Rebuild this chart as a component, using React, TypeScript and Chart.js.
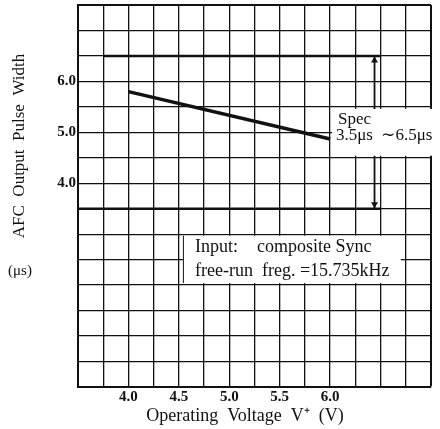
import React, { useEffect, useRef } from "react";
import { Chart, registerables } from "chart.js";

Chart.register(...registerables);

// ---- data ----
const voltage = [4.0, 6.0];
const pulseWidth = [5.8, 4.87];
const specMin = 3.5;
const specMax = 6.5;
const specLineStartX = [3.5, 3.75]; // lower, upper
const specLineEndX = 6.5;
const arrowX = 6.44;
const xLabelsShown = [4.0, 4.5, 5.0, 5.5, 6.0];
const yLabelsShown = [4.0, 5.0, 6.0];
const xRange = [3.5, 7.0];
const yRange = [0, 7.5];
const xStep = 0.25;
const yStep = 0.5;

const FONT = '"Liberation Serif", "Times New Roman", serif';

const overlayPlugin = {
  id: "overlay",
  beforeDatasetsDraw(chart: any) {
    const { ctx } = chart;
    const x = chart.scales.x;
    const y = chart.scales.y;
    ctx.save();
    ctx.fillStyle = "#fff";
    // spec label box
    const sx = x.getPixelForValue(6.02);
    const sy1 = y.getPixelForValue(5.46);
    const sy2 = y.getPixelForValue(4.54);
    ctx.fillRect(sx, sy1, chart.width - sx, sy2 - sy1);
    // input label box
    const ix1 = x.getPixelForValue(4.54);
    const ix2 = x.getPixelForValue(6.7);
    const iy1 = y.getPixelForValue(2.97);
    const iy2 = y.getPixelForValue(2.04);
    ctx.fillRect(ix1, iy1, ix2 - ix1, iy2 - iy1);
    ctx.strokeStyle = "#111";
    ctx.lineWidth = 1;
    ctx.beginPath();
    ctx.moveTo(ix1 + 0.5, iy1);
    ctx.lineTo(ix1 + 0.5, iy2);
    ctx.stroke();
    ctx.restore();
  },
  afterDraw(chart: any) {
    const { ctx } = chart;
    ctx.save();
    ctx.fillStyle = "#111";
    ctx.textBaseline = "middle";
    ctx.textAlign = "left";
    ctx.font = `17px ${FONT}`;
    ctx.fillText("Spec", 338, 120);
    ctx.fillText("3.5\u03bcs  \u223c6.5\u03bcs", 336, 136);
    ctx.font = `18px ${FONT}`;
    ctx.fillText("Input:", 195, 247);
    ctx.fillText("composite Sync", 257, 247);
    ctx.fillText("free-run  freg. =15.735kHz", 195, 271);
    // x title
    ctx.textAlign = "center";
    ctx.font = `18px ${FONT}`;
    ctx.fillText("Operating  Voltage  V\u207a  (V)", 245, 416);
    // y title
    ctx.font = `17px ${FONT}`;
    ctx.save();
    ctx.translate(20, 146);
    ctx.rotate(-Math.PI / 2);
    ctx.fillText("AFC  Output  Pulse  Width", 0, 0);
    ctx.restore();
    ctx.font = `15px ${FONT}`;
    ctx.fillText("(\u03bcs)", 20, 271);
    ctx.restore();
  },
};

export default function App() {
  const ref = useRef<HTMLCanvasElement>(null);
  useEffect(() => {
    if (!ref.current) return;
    const pts = voltage.map((v, i) => ({ x: v, y: pulseWidth[i] }));
    const chart = new Chart(ref.current, {
      type: "line",
      data: {
        datasets: [
          {
            data: pts,
            borderColor: "#111",
            borderWidth: 3.5,
            pointRadius: 0,
          },
          {
            data: [
              { x: specLineStartX[1], y: specMax },
              { x: specLineEndX, y: specMax },
            ],
            borderColor: "#111",
            borderWidth: 2.5,
            pointRadius: 0,
          },
          {
            data: [
              { x: specLineStartX[0], y: specMin },
              { x: specLineEndX, y: specMin },
            ],
            borderColor: "#111",
            borderWidth: 2.5,
            pointRadius: 0,
          },
          {
            data: [
              { x: arrowX, y: specMax },
              { x: arrowX, y: specMax - 0.09 },
              { x: arrowX, y: 5.46 },
            ],
            borderColor: "#111",
            backgroundColor: "#111",
            borderWidth: 1.8,
            pointStyle: "triangle",
            pointRadius: [0, 4, 0],
            pointRotation: 0,
            pointBorderWidth: 0,
          },
          {
            data: [
              { x: arrowX, y: 4.54 },
              { x: arrowX, y: specMin + 0.09 },
              { x: arrowX, y: specMin },
            ],
            borderColor: "#111",
            backgroundColor: "#111",
            borderWidth: 1.8,
            pointStyle: "triangle",
            pointRadius: [0, 4, 0],
            pointRotation: 180,
            pointBorderWidth: 0,
          },
        ],
      },
      options: {
        animation: false,
        responsive: false,
        maintainAspectRatio: false,
        layout: { padding: { top: 5, right: 9, left: 0, bottom: 0 } },
        plugins: {
          legend: { display: false },
          tooltip: { enabled: false },
        },
        scales: {
          x: {
            type: "linear",
            min: xRange[0],
            max: xRange[1],
            afterFit: (s: any) => {
              s.height = 42;
              s.paddingLeft = 0;
              s.paddingRight = 0;
            },
            afterBuildTicks: (s: any) => {
              const t = [];
              for (let v = xRange[0]; v <= xRange[1] + 1e-9; v += xStep) t.push({ value: v });
              s.ticks = t;
            },
            ticks: {
              autoSkip: false,
              maxRotation: 0,
              padding: 1,
              color: "#111",
              font: { family: FONT, size: 15, weight: "bold" },
              callback: (v: any) =>
                xLabelsShown.some((l) => Math.abs(l - v) < 1e-6) ? Number(v).toFixed(1) : "",
            },
            grid: {
              color: "#111",
              lineWidth: (c: any) =>
                c.tick && Math.abs(c.tick.value - xRange[1]) < 1e-6 ? 2 : 1.3,
              drawTicks: false,
            },
            border: { color: "#111", width: 2 },
          },
          y: {
            type: "linear",
            min: yRange[0],
            max: yRange[1],
            afterFit: (s: any) => {
              s.width = 78;
              s.paddingTop = 0;
              s.paddingBottom = 0;
            },
            afterBuildTicks: (s: any) => {
              const t = [];
              for (let v = yRange[0]; v <= yRange[1] + 1e-9; v += yStep) t.push({ value: v });
              s.ticks = t;
            },
            ticks: {
              autoSkip: false,
              padding: 2,
              color: "#111",
              font: { family: FONT, size: 15, weight: "bold" },
              callback: (v: any) =>
                yLabelsShown.some((l) => Math.abs(l - v) < 1e-6) ? Number(v).toFixed(1) : "",
            },
            grid: {
              color: "#111",
              lineWidth: (c: any) =>
                c.tick && Math.abs(c.tick.value - yRange[1]) < 1e-6 ? 2 : 1.3,
              drawTicks: false,
            },
            border: { color: "#111", width: 2 },
          },
        },
      },
      plugins: [overlayPlugin],
    } as any);
    return () => chart.destroy();
  }, []);
  return (
    <div style={{ position: "fixed", left: 0, top: 0, width: 440, height: 429, background: "#fff" }}>
      <canvas ref={ref} width={440} height={429} style={{ width: 440, height: 429 }} />
    </div>
  );
}
